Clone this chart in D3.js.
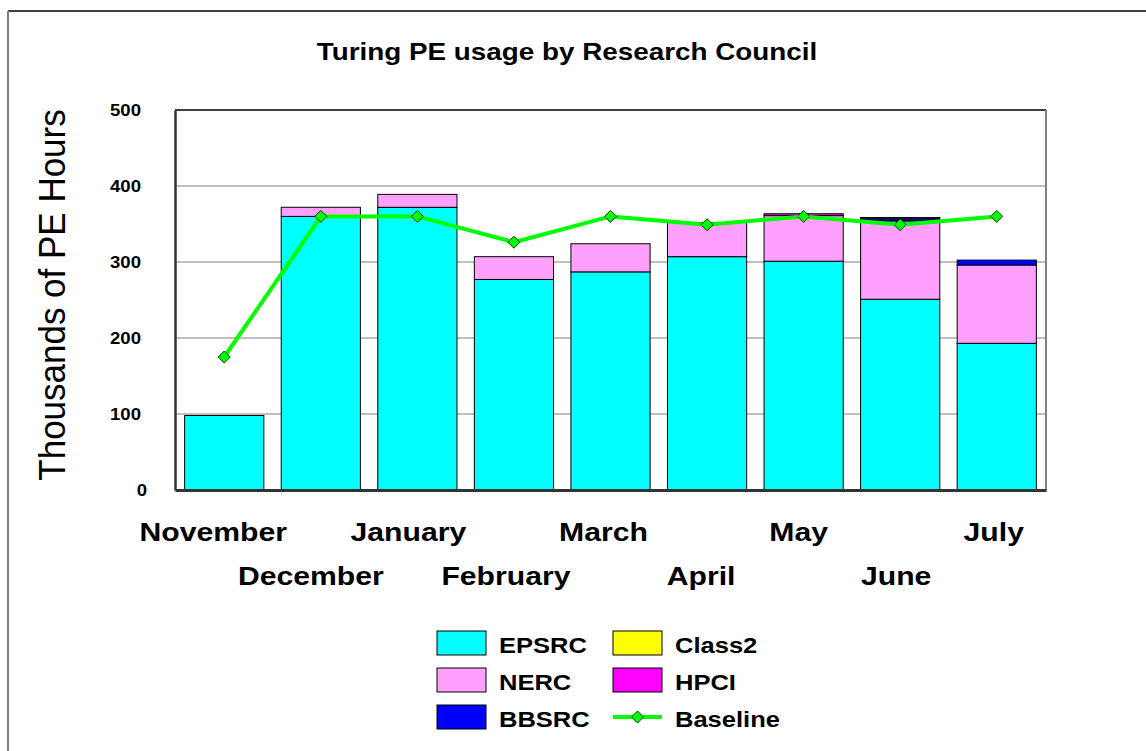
<!DOCTYPE html>
<html>
<head>
<meta charset="utf-8">
<script src="https://cdn.jsdelivr.net/npm/d3@7"></script>
<style>
  html, body { margin: 0; padding: 0; background: #fff; }
  svg { display: block; font-family: "Liberation Sans", Arial, sans-serif; }
</style>
</head>
<body>
<svg id="chart" width="1146" height="751"></svg>
<script>
// ---- data ----
const months = ["November","December","January","February","March","April","May","June","July"];
const seriesNames = ["EPSRC","NERC","BBSRC","Class2","HPCI"];
const seriesColors = ["#00ffff","#ffa0ff","#0000ff","#ffff00","#ff00ff"];
const epsrc  = [98, 360, 372, 277, 287, 307, 301, 251, 193];
const nerc   = [0, 12, 17, 30, 37, 45, 60, 103, 103];
const bbsrc  = [0, 0, 0, 0, 0, 0, 0, 3, 6.5];
const class2 = [0, 0, 0, 0, 0, 0, 0, 1.5, 0];
const hpci   = [0, 0, 0, 0, 0, 0, 2.5, 0, 0];
const baseline = [175, 360, 360, 326, 360, 349, 360, 349, 360];
const yTicks = [0, 100, 200, 300, 400, 500];
const title = "Turing PE usage by Research Council";
const yTitle = "Thousands of PE Hours";

const SX = 1.16; // horizontal stretch of the original rendering

const svg = d3.select("#chart");
const plot = {left: 175, right: 1046, top: 110, bottom: 490};

// outer frame
svg.append("line").attr("x1", 8).attr("x2", 1146).attr("y1", 11).attr("y2", 11)
  .attr("stroke", "#000").attr("stroke-width", 1.5);
svg.append("line").attr("x1", 8).attr("x2", 8).attr("y1", 11).attr("y2", 751)
  .attr("stroke", "#808080").attr("stroke-width", 2);

// scales
const x = d3.scaleBand().domain(months).range([plot.left, plot.right])
  .paddingInner(0.18).paddingOuter(0.1);
const y = d3.scaleLinear().domain([0, 500]).range([plot.bottom, plot.top]);

// gridlines
svg.append("g").selectAll("line").data(yTicks.filter(d => d > 0 && d < 500)).join("line")
  .attr("x1", plot.left).attr("x2", plot.right)
  .attr("y1", d => y(d)).attr("y2", d => y(d))
  .attr("stroke", "#808080").attr("stroke-width", 1);

// plot frame: top + right
svg.append("line").attr("x1", plot.left).attr("x2", plot.right).attr("y1", y(500)).attr("y2", y(500))
  .attr("stroke", "#404040").attr("stroke-width", 2);
svg.append("line").attr("x1", plot.right).attr("x2", plot.right).attr("y1", y(500)).attr("y2", y(0))
  .attr("stroke", "#808080").attr("stroke-width", 2);

// stacked bars
const table = months.map((m, i) => ({month: m, EPSRC: epsrc[i], NERC: nerc[i], BBSRC: bbsrc[i], Class2: class2[i], HPCI: hpci[i]}));
const stack = d3.stack().keys(seriesNames)(table);
const color = d3.scaleOrdinal().domain(seriesNames).range(seriesColors);

svg.append("g").selectAll("g").data(stack).join("g")
  .attr("fill", d => color(d.key))
  .selectAll("rect").data(d => d.filter(s => s[1] - s[0] > 0)).join("rect")
  .attr("x", d => x(d.data.month))
  .attr("width", x.bandwidth())
  .attr("y", d => y(d[1]))
  .attr("height", d => y(d[0]) - y(d[1]))
  .attr("stroke", "#000").attr("stroke-width", 1);

// axes lines (left + bottom)
const yAxis = d3.axisLeft(y).tickValues(yTicks).tickSize(0).tickPadding(0).tickFormat(d3.format("d"));
const yAxisG = svg.append("g").attr("transform", `translate(${plot.left},0)`).call(yAxis);
yAxisG.select(".domain").attr("stroke", "#333").attr("stroke-width", 2.5);
yAxisG.selectAll(".tick text").remove();
yAxisG.selectAll(".tick").append("text")
  .attr("transform", d => `translate(${d === 0 ? -28 : -34},0) scale(${SX},1)`)
  .attr("dy", "0.36em")
  .attr("text-anchor", "end")
  .attr("fill", "#000")
  .style("font-size", "16px").style("font-weight", "bold")
  .style("font-family", "'Liberation Sans', Arial, sans-serif")
  .text(d => d);

const xAxis = d3.axisBottom(x).tickSize(0).tickFormat("");
const xAxisG = svg.append("g").attr("transform", `translate(0,${plot.bottom})`).call(xAxis);
xAxisG.select(".domain").attr("stroke", "#333").attr("stroke-width", 3);
xAxisG.selectAll(".tick text").remove();
xAxisG.selectAll(".tick").append("text")
  .attr("transform", (d, i) => `translate(${-11 + i},${i % 2 === 0 ? 51 : 95}) scale(${SX},1)`)
  .attr("text-anchor", "middle")
  .attr("fill", "#000")
  .style("font-size", "26px").style("font-weight", "bold")
  .style("font-family", "'Liberation Sans', Arial, sans-serif")
  .text(d => d);

// baseline line
const line = d3.line().x((d, i) => x(months[i]) + x.bandwidth() / 2).y(d => y(d));
svg.append("path").datum(baseline)
  .attr("d", line).attr("fill", "none")
  .attr("stroke", "#00ff00").attr("stroke-width", 4).attr("stroke-linejoin", "round");
const diamond = "M0,-6L6,0L0,6L-6,0Z";
svg.append("g").selectAll("path").data(baseline).join("path")
  .attr("transform", (d, i) => `translate(${x(months[i]) + x.bandwidth() / 2},${y(d)})`)
  .attr("d", diamond)
  .attr("fill", "#00ff00").attr("stroke", "#003300").attr("stroke-width", 1);

// title
svg.append("text")
  .attr("transform", `translate(567,60) scale(${SX},1)`)
  .attr("text-anchor", "middle")
  .style("font-size", "24px").style("font-weight", "bold")
  .text(title);

// y-axis title
svg.append("text")
  .attr("transform", `translate(65,295) scale(1.08,1) rotate(-90)`)
  .attr("text-anchor", "middle")
  .style("font-size", "35px")
  .text(yTitle);

// legend
const legendItems = seriesNames.map((n, i) => ({name: n, color: seriesColors[i], type: "rect"}))
  .concat([{name: "Baseline", color: "#00ff00", type: "line"}]);
const legend = svg.append("g");
legendItems.forEach((it, i) => {
  const col = Math.floor(i / 3), row = i % 3;
  const sx = col === 0 ? 437 : 613;
  const ty = 631 + row * 37;
  const g = legend.append("g");
  if (it.type === "rect") {
    g.append("rect").attr("x", sx).attr("y", ty).attr("width", 49).attr("height", 24)
      .attr("fill", it.color).attr("stroke", "#000").attr("stroke-width", 1);
  } else {
    g.append("line").attr("x1", sx).attr("x2", sx + 49).attr("y1", ty + 12).attr("y2", ty + 12)
      .attr("stroke", it.color).attr("stroke-width", 4);
    g.append("path").attr("transform", `translate(${sx + 24.5},${ty + 12})`).attr("d", diamond)
      .attr("fill", "#00ff00").attr("stroke", "#003300").attr("stroke-width", 1);
  }
  g.append("text")
    .attr("transform", `translate(${sx + 62},${ty + 22}) scale(${SX},1)`)
    .style("font-size", "22px").style("font-weight", "bold")
    .text(it.name);
});
</script>
</body>
</html>
